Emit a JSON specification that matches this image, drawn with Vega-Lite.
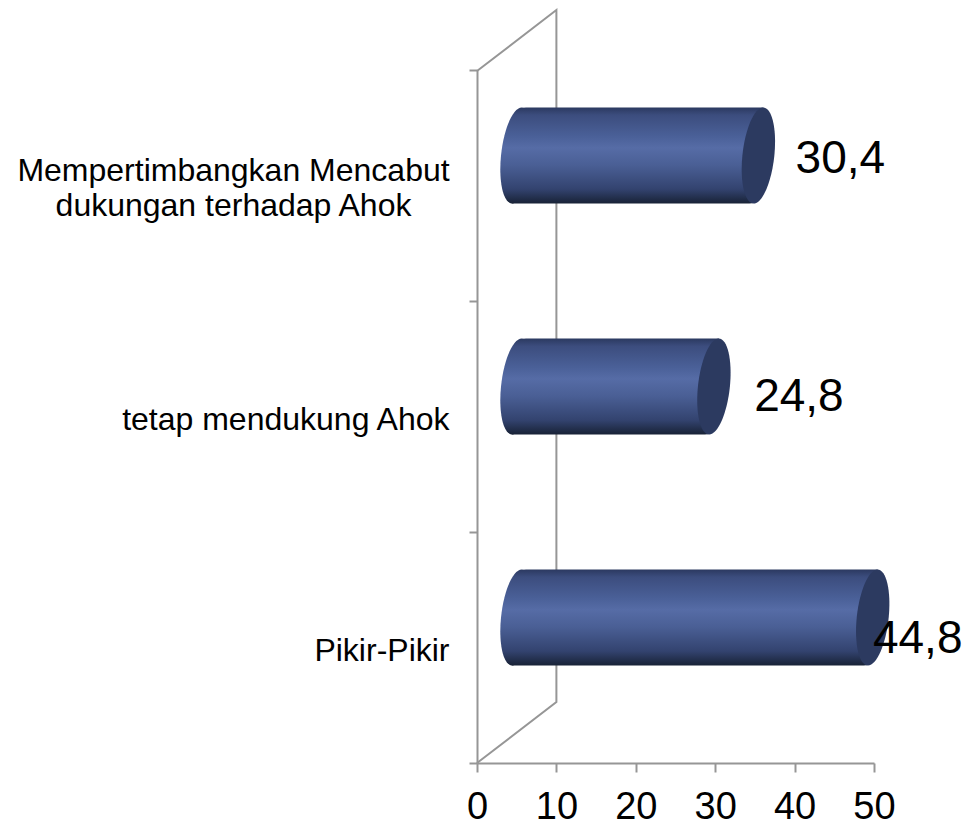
{
"$schema":"https://vega.github.io/schema/vega-lite/v6.json",
"width":397,"height":753,"autosize":"none",
"padding":{"left":477,"top":10,"right":100,"bottom":61},
"background":"white",
"config":{"view":{"stroke":null},"font":"Liberation Sans"},
"datasets":{
"bars":[
{"kategori":"Mempertimbangkan Mencabut dukungan terhadap Ahok","nilai":30.4,"teks":"30,4"},
{"kategori":"tetap mendukung Ahok","nilai":24.8,"teks":"24,8"},
{"kategori":"Pikir-Pikir","nilai":44.8,"teks":"44,8"}],
"dinding":[
{"x":0,"h":91.9,"urut":1},
{"x":10,"h":100,"urut":2},
{"x":10,"h":8.1,"urut":3},
{"x":0,"h":0,"urut":4}]
},
"resolve":{"scale":{"y":"independent"}},
"layer":[
{"data":{"name":"dinding"},
 "mark":{"type":"line","color":"#969696","strokeWidth":2,"clip":false},
 "encoding":{
  "x":{"field":"x","type":"quantitative","scale":{"domain":[0,50],"nice":false},
    "axis":{"values":[0,10,20,30,40,50],"grid":false,"tickSize":9,"tickWidth":2,"tickColor":"#969696","domainColor":"#969696","domainWidth":2,"labelFontSize":38,"labelColor":"#000000","labelPadding":16,"title":null,"labelFlush":false}},
  "y":{"field":"h","type":"quantitative","scale":{"domain":[0,100],"nice":false},"axis":null},
  "order":{"field":"urut","type":"quantitative"}}},
{"data":{"name":"bars"},
 "encoding":{"y":{"field":"kategori","type":"nominal","sort":null,"scale":{"range":[60,753],"paddingInner":0,"paddingOuter":0},
   "axis":{"title":null,"orient":"left","tickBand":"extent","tickSize":8,"tickWidth":2,"tickColor":"#969696","domainColor":"#969696","domainWidth":2,"labelFontSize":32,"labelColor":"#000000","labelPadding":20,"labelOffset":3,"labelLimit":470,
   "labelExpr":"indexof(datum.label,'Mempertimbangkan')==0 ? '' : datum.label"}}},
 "layer":[
 {"mark":{"type":"point","filled":true,"opacity":1,"size":9216,"xOffset":40,"yOffset":-30,
   "shape":"M.333,0C.278,.552,.084,1,-.1,1C-.284,1,-.388,.552,-.333,0C-.278,-.552,-.084,-1,.1,-1C.284,-1,.388,-.552,.333,0Z",
   "fill":{"x1":0,"y1":0,"x2":0,"y2":1,"gradient":"linear","stops":[{"offset":0,"color":"#2b3960"},{"offset":0.08,"color":"#3c4d7e"},{"offset":0.3,"color":"#4a6098"},{"offset":0.42,"color":"#566ca6"},{"offset":0.6,"color":"#4a5f95"},{"offset":0.85,"color":"#33436f"},{"offset":1,"color":"#182236"}]}},
  "encoding":{"x":{"datum":0,"type":"quantitative"}}},
 {"mark":{"type":"bar","size":96,"x2Offset":35,"xOffset":45,"yOffset":-30,"cornerRadiusTopLeft":14,"cornerRadiusBottomRight":14,
   "fill":{"x1":0,"y1":0,"x2":0,"y2":1,"gradient":"linear","stops":[{"offset":0,"color":"#2b3960"},{"offset":0.08,"color":"#3c4d7e"},{"offset":0.3,"color":"#4a6098"},{"offset":0.42,"color":"#566ca6"},{"offset":0.6,"color":"#4a5f95"},{"offset":0.85,"color":"#33436f"},{"offset":1,"color":"#182236"}]}},
  "encoding":{"x":{"field":"nilai","type":"quantitative"},"x2":{"datum":0}}},
 {"mark":{"type":"point","filled":true,"opacity":1,"size":9216,"xOffset":40,"yOffset":-30,"color":"#2c3a60",
   "shape":"M.333,0C.278,.552,.084,1,-.1,1C-.284,1,-.388,.552,-.333,0C-.278,-.552,-.084,-1,.1,-1C.284,-1,.388,-.552,.333,0Z"},
  "encoding":{"x":{"field":"nilai","type":"quantitative"}}},
 {"transform":[{"filter":"datum.nilai==30.4"}],
  "mark":{"type":"text","fontSize":32,"color":"#000000","align":"center","baseline":"middle","dx":-243.5,"dy":-15,"lineHeight":35,"text":["Mempertimbangkan Mencabut","dukungan terhadap Ahok"]},
  "encoding":{"x":{"datum":0,"type":"quantitative"}}},
 {"transform":[{"filter":"datum.nilai==30.4"}],
  "mark":{"type":"text","fontSize":46,"color":"#000000","align":"center","baseline":"middle","dx":122,"dy":-27},
  "encoding":{"x":{"field":"nilai","type":"quantitative"},"text":{"field":"teks","type":"nominal"}}},
 {"transform":[{"filter":"datum.nilai==24.8"}],
  "mark":{"type":"text","fontSize":46,"color":"#000000","align":"center","baseline":"middle","dx":125,"dy":-20},
  "encoding":{"x":{"field":"nilai","type":"quantitative"},"text":{"field":"teks","type":"nominal"}}},
 {"transform":[{"filter":"datum.nilai==44.8"}],
  "mark":{"type":"text","fontSize":46,"color":"#000000","align":"center","baseline":"middle","dx":85,"dy":-9},
  "encoding":{"x":{"field":"nilai","type":"quantitative"},"text":{"field":"teks","type":"nominal"}}}
 ]}
]}
